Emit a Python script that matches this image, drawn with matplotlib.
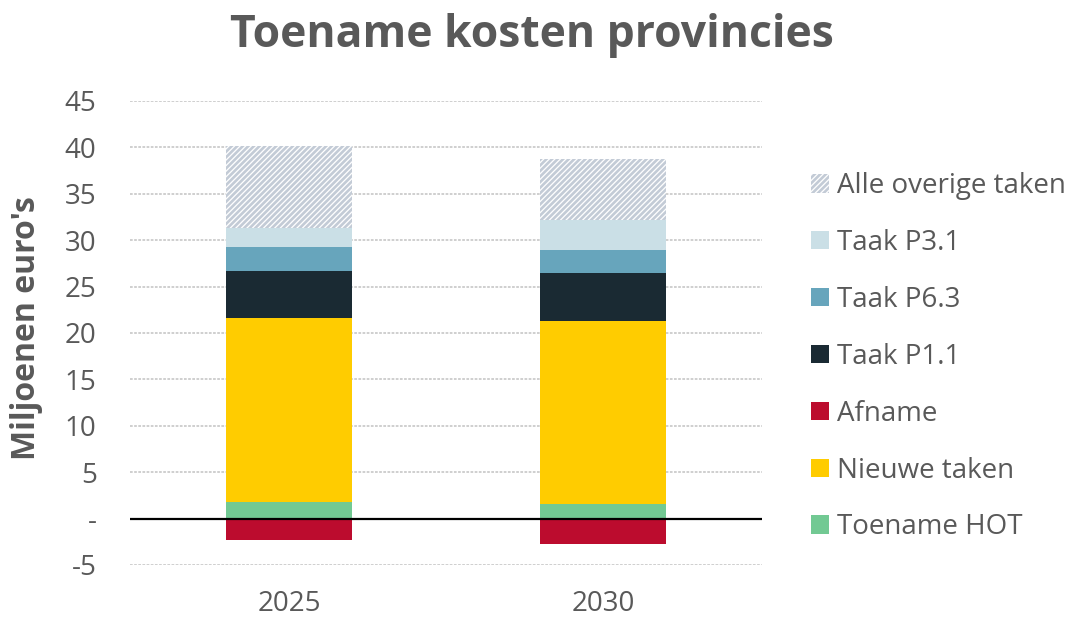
import matplotlib.pyplot as plt
from matplotlib.patches import Patch
import numpy as np

plt.rcParams['font.family'] = ['Open Sans', 'DejaVu Sans']
plt.rcParams['hatch.linewidth'] = 1.9

years = ['2025', '2030']
# stacking order, bottom to top (Afname is negative)
toename_hot = [1.75, 1.6]
nieuwe_taken = [19.85, 19.65]
afname = [-2.3, -2.75]
taak_p11 = [5.05, 5.2]
taak_p63 = [2.6, 2.45]
taak_p31 = [2.05, 3.25]
overige = [8.9, 6.65]

col_hot = '#72c993'
col_nieuwe = '#ffcc00'
col_afname = '#bc0c2e'
col_p11 = '#1a2a33'
col_p63 = '#67a5bc'
col_p31 = '#cadfe6'
col_overige = '#c3cbd6'
text_col = '#595959'

fig = plt.figure(figsize=(10.74, 6.18), dpi=100)
ax = fig.add_axes([0.121, 0.0858, 0.5885, 0.7508])

x = np.arange(len(years))
w = 0.4

ax.bar(x, toename_hot, w, color=col_hot, zorder=2)
b1 = np.array(toename_hot)
ax.bar(x, nieuwe_taken, w, bottom=b1, color=col_nieuwe, zorder=2)
b2 = b1 + np.array(nieuwe_taken)
ax.bar(x, afname, w, color=col_afname, zorder=2)
ax.bar(x, taak_p11, w, bottom=b2, color=col_p11, zorder=2)
b3 = b2 + np.array(taak_p11)
ax.bar(x, taak_p63, w, bottom=b3, color=col_p63, zorder=2)
b4 = b3 + np.array(taak_p63)
ax.bar(x, taak_p31, w, bottom=b4, color=col_p31, zorder=2)
b5 = b4 + np.array(taak_p31)
ax.bar(x, overige, w, bottom=b5, color='white', edgecolor=col_overige,
       hatch='//////', linewidth=0, zorder=2)

ax.axhline(0, color='black', linewidth=1.6, zorder=3)

ax.set_xlim(-0.506, 1.506)
ax.set_ylim(-5, 45)
yt = np.arange(-5, 46, 5)
ax.set_yticks(yt)
ax.set_yticklabels(['-' if v == 0 else str(v) for v in yt])
ax.set_xticks(x)
ax.set_xticklabels(years)
ax.tick_params(axis='both', length=0, labelsize=20, colors=text_col)
ax.tick_params(axis='y', pad=24)
ax.tick_params(axis='x', pad=18)
ax.yaxis.grid(True, color='#cccccc', linestyle=(0, (1.5, 0.8)), linewidth=1.3, zorder=0)
ax.set_axisbelow(True)
for s in ax.spines.values():
    s.set_visible(False)

ax.set_ylabel("Miljoenen euro's", fontsize=23, fontweight='bold', color=text_col)
ax.yaxis.set_label_coords(-0.137, 0.51)
fig.text(0.495, 0.943, 'Toename kosten provincies', fontsize=32, fontweight='bold',
         color=text_col, ha='center', va='center')

handles = [
    Patch(facecolor='white', edgecolor=col_overige, hatch='//////', linewidth=0),
    Patch(facecolor=col_p31),
    Patch(facecolor=col_p63),
    Patch(facecolor=col_p11),
    Patch(facecolor=col_afname),
    Patch(facecolor=col_nieuwe),
    Patch(facecolor=col_hot),
]
labels = ['Alle overige taken', 'Taak P3.1', 'Taak P6.3', 'Taak P1.1',
          'Afname', 'Nieuwe taken', 'Toename HOT']
leg = fig.legend(handles, labels, loc='upper left', bbox_to_anchor=(0.742, 0.744),
                 frameon=False, fontsize=20, labelspacing=1.04, handlelength=0.65,
                 handleheight=0.65, handletextpad=0.3, borderpad=0)
for t in leg.get_texts():
    t.set_color(text_col)

fig.savefig('out.png', dpi=100)
